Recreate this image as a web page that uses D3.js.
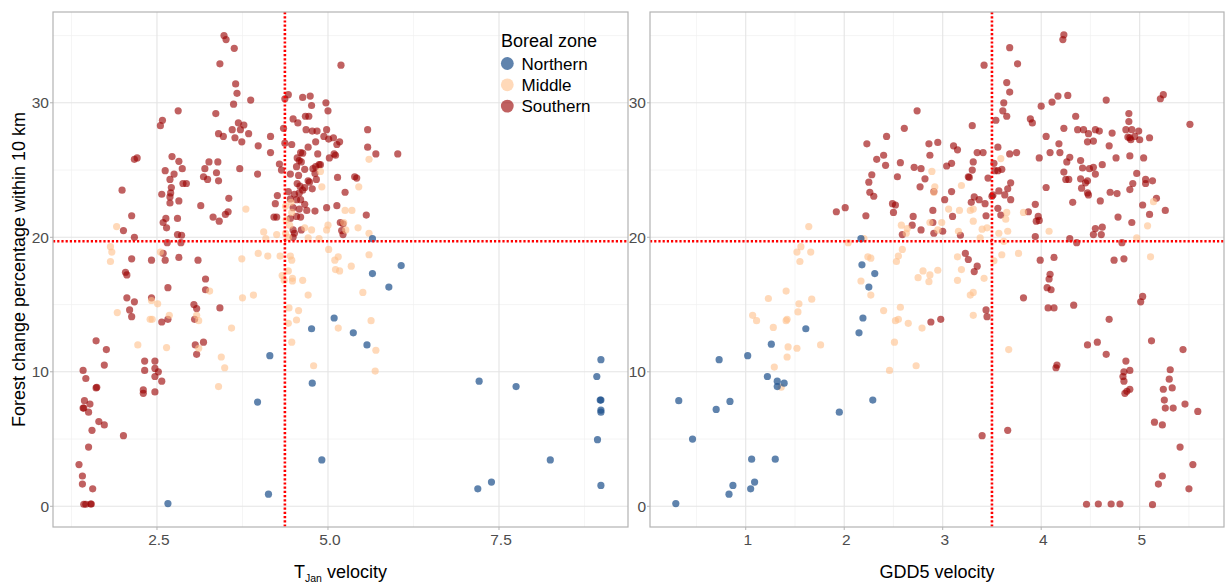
<!DOCTYPE html>
<meta charset="utf-8">

<style type="text/css">
html, body {
    margin: 0;
    background-color: #ffffff;
}

.grid-major {
    stroke: #e4e4e4;
    stroke-width: 1.1;
}

.grid-minor {
    stroke: #f1f1f1;
    stroke-width: 0.7;
}

.panel-border {
    fill: none;
    stroke: #b3b3b3;
    stroke-width: 1.2;
}

.tick-mark {
    stroke: #b3b3b3;
    stroke-width: 1;
}

.tick-label {
    font-family: "Liberation Sans", Arial, sans-serif;
    font-size: 15.5px;
    fill: #4d4d4d;
}

.axis-title, .legend-text {
    font-family: "Liberation Sans", Arial, sans-serif;
    font-size: 18px;
    fill: #000000;
}

.legend-text {
    font-size: 17px;
}

.ref-line {
    stroke: #ff0000;
    stroke-width: 2.6;
    stroke-dasharray: 2.2, 2;
}
</style>

<body>
</body>

<script src="https://d3js.org/d3.v7.min.js"></script>
<script>

// zones and colours
var zones = ["Northern", "Middle", "Southern"];
var zoneColors = {"Northern": "#1b4f8a", "Middle": "#ffc08a", "Southern": "#990000"};
var zoneOpacity = {"Northern": 0.7, "Middle": 0.6, "Southern": 0.62};

// reference lines (medians)
var forestLine = 19.7;
var tjanLine = 4.37;
var gddLine = 3.5;

// tick values
var yTicks = [0, 10, 20, 30];
var yMinor = [5, 15, 25, 35];
var tjanTicks = [2.5, 5, 7.5];
var tjanMinor = [1.25, 3.75, 6.25, 8.75];
var gddTicks = [1, 2, 3, 4, 5];
var gddMinor = [0.5, 1.5, 2.5, 3.5, 4.5, 5.5];

// left panel: [T_Jan velocity, forest change %]
var tjanNorthern = [[5.65,19.9],[5.65,17.3],[6.07,17.9],[5.89,16.3],[5.09,14.0],[4.76,13.2],[5.37,12.9],[5.57,12.0],
    [4.15,11.2],[4.77,9.15],[3.97,7.75],[4.91,3.45],[4.13,0.9],[2.66,0.2],[7.21,9.3],[7.75,8.9],[8.99,10.9],
    [8.93,9.65],[8.98,7.9],[8.99,7.9],[8.99,7.15],[8.99,7.0],[8.94,4.95],[8.25,3.45],[7.39,1.8],[7.19,1.3],[8.99,1.55]];

var tjanMiddle = [[1.91,20.8],[1.82,19.3],[1.84,18.9],[1.82,18.2],[2.55,18.9],[3.8,22.1],[4.06,20.4],[4.09,19.9],
    [4.25,20.2],[3.74,18.4],[3.98,18.8],[4.12,18.6],[4.3,18.6],[3.75,15.5],[3.91,15.7],[4.38,22.3],[4.47,21.85],
    [4.46,22.6],[4.39,21.3],[4.44,20.9],[4.38,20.3],[4.42,20.0],[4.66,20.7],[4.76,20.55],[4.71,19.95],[4.89,24.9],
    [4.91,23.75],[5.6,25.8],[5.6,20.3],[5.45,23.75],[5.25,22.0],[5.35,22.0],[5.23,21.1],[5.26,20.55],[5.44,20.7],
    [5.0,20.9],[4.98,20.55],[4.87,19.9],[5.01,19.1],[5.1,18.3],[5.15,18.55],[5.11,17.6],[5.17,17.5],[5.34,17.85],
    [5.6,18.7],[5.51,15.9],[4.33,17.15],[4.36,16.8],[4.48,16.95],[4.48,16.75],[4.42,17.5],[4.47,18.3],[4.45,18.6],
    [4.63,16.8],[4.71,15.7],[1.92,14.4],[2.42,15.3],[2.43,13.9],[2.4,13.9],[2.51,15.05],[2.68,14.2],[2.22,12.0],
    [2.64,11.8],[3.08,14.2],[3.11,13.8],[3.27,16.0],[3.11,11.75],[3.44,11.1],[3.49,10.3],[3.4,8.9],[3.59,13.25],
    [4.43,14.75],[4.42,13.6],[4.47,12.2],[4.57,14.55],[4.54,13.85],[5.15,13.25],[5.63,13.8],[5.7,11.6],[4.79,10.45],
    [5.69,10.05]];

var tjanSouthern = [[3.48,35.0],[3.51,34.7],[3.63,34.05],[3.42,32.9],[5.19,32.8],[3.65,31.4],[3.67,30.7],[3.87,30.2],
    [3.62,29.9],[3.36,29.2],[2.81,29.4],[2.58,28.7],[2.55,28.3],[3.69,28.5],[3.77,28.35],[3.6,28.0],[3.72,28.0],
    [3.4,27.7],[3.47,27.5],[3.84,27.7],[3.64,27.4],[3.74,27.1],[3.98,26.8],[4.16,27.5],[4.16,26.3],[3.71,25.1],
    [3.97,24.7],[2.17,25.8],[2.21,25.9],[1.99,23.5],[2.72,26.0],[2.82,25.65],[2.87,25.1],[2.62,24.95],[2.75,24.7],
    [2.69,24.3],[2.71,23.7],[2.88,24.0],[2.93,24.0],[2.57,23.2],[2.7,23.3],[2.69,23.0],[2.69,22.55],[2.82,22.7],
    [3.18,24.5],[3.24,24.3],[3.2,25.1],[3.26,25.6],[3.37,24.8],[3.4,24.2],[3.39,25.6],[3.14,22.35],[3.55,22.9],
    [3.32,21.5],[3.41,21.2],[3.5,21.7],[3.54,21.9],[2.63,21.4],[2.59,21.1],[2.64,20.7],[2.8,21.4],[2.8,20.2],
    [2.86,20.15],[2.85,19.6],[2.65,19.6],[2.59,18.8],[2.62,18.3],[2.82,18.5],[2.42,18.3],[2.13,21.6],[2.01,20.5],
    [2.17,20.0],[2.13,18.4],[2.04,17.4],[2.06,17.2],[3.1,18.3],[3.21,16.9],[2.66,16.25],[3.21,16.1],[2.42,15.5],
    [4.35,28.1],[4.37,27.0],[4.29,25.45],[4.32,25.0],[4.26,23.1],[4.23,22.5],[4.25,21.5],[4.21,21.5],[4.37,30.3],
    [4.42,30.6],[4.49,28.8],[4.56,28.5],[4.47,26.9],[4.63,30.4],[4.74,30.5],[4.76,29.8],[4.67,29.0],[4.72,29.0],
    [4.68,28.0],[4.77,27.9],[4.84,27.9],[4.97,30.0],[5.0,29.4],[4.98,28.0],[4.94,27.5],[5.01,27.3],[5.08,27.4],
    [5.17,27.1],[5.13,26.9],[5.58,28.0],[5.58,26.7],[5.7,26.2],[6.02,26.2],[4.82,27.1],[4.71,26.7],[4.6,26.3],
    [4.63,26.25],[4.85,26.2],[5.02,25.9],[5.09,26.2],[5.11,26.1],[4.55,25.9],[4.58,25.7],[4.61,25.6],[4.54,25.25],
    [4.66,25.05],[4.78,25.1],[4.82,25.25],[4.87,25.4],[4.89,25.4],[4.81,24.75],[4.45,24.7],[4.57,24.6],[4.71,24.2],
    [4.73,24.1],[4.83,24.3],[5.14,24.45],[5.39,24.5],[5.42,24.4],[4.66,23.7],[4.77,23.6],[4.55,24.0],[4.59,23.8],
    [4.63,23.5],[4.42,23.4],[4.51,23.2],[4.58,23.3],[5.25,23.35],[4.45,22.85],[4.54,22.8],[4.6,22.8],[4.66,22.45],
    [4.58,22.1],[4.49,22.2],[4.69,22.0],[4.81,21.95],[4.98,22.2],[5.13,22.35],[5.56,21.65],[4.54,21.55],[4.6,21.5],
    [4.45,21.4],[5.18,21.1],[5.22,21.0],[5.2,20.5],[5.22,20.2],[4.49,20.55],[4.51,20.3],[4.49,20.0],[4.61,20.55],
    [2.06,15.5],[2.17,15.2],[2.1,14.6],[2.13,14.1],[3.04,15.0],[3.08,14.7],[3.42,14.75],[2.66,13.9],[2.57,13.7],
    [3.05,13.9],[3.18,12.2],[3.06,12.0],[3.08,11.3],[1.61,12.3],[1.76,11.65],[1.73,10.5],[1.42,10.1],[1.46,9.5],
    [1.61,8.8],[1.62,8.85],[1.44,7.85],[1.52,7.6],[1.42,7.3],[1.43,7.3],[1.5,7.0],[1.65,6.3],[1.73,6.05],[1.55,5.65],
    [2.01,5.25],[1.5,4.4],[1.36,3.1],[1.41,2.25],[1.41,1.65],[1.56,1.3],[1.43,0.15],[1.46,0.15],[1.53,0.17],
    [1.54,0.17],[2.32,10.8],[2.47,10.8],[2.47,10.25],[2.52,10.0],[2.47,9.65],[2.57,9.3],[2.32,10.1],[2.3,8.65],
    [2.3,8.4],[2.47,8.5]];

// right panel: [GDD5 velocity, forest change %]
var gddNorthern = [[2.17,19.9],[2.18,17.95],[2.31,17.3],[2.25,16.3],[2.19,14.0],[2.15,12.9],[1.61,13.2],[1.26,12.05],
    [1.02,11.2],[0.73,10.9],[1.22,9.65],[1.32,9.3],[1.39,9.15],[1.32,8.9],[0.32,7.85],[0.84,7.8],[0.7,7.2],[1.95,7.0],
    [2.29,7.9],[0.46,5.0],[1.06,3.5],[1.3,3.5],[1.09,1.8],[0.87,1.55],[1.05,1.3],[0.83,0.9],[0.29,0.2]];

var gddMiddle = [[1.64,20.8],[1.56,19.3],[1.52,18.9],[1.55,18.2],[1.66,18.9],[2.04,19.6],[2.2,19.9],[2.24,18.55],
    [2.27,18.45],[2.17,16.75],[2.27,15.7],[1.41,16.0],[1.23,15.45],[1.67,15.4],[1.54,15.05],[1.53,14.45],[1.07,14.2],
    [1.11,13.8],[1.28,13.3],[1.41,13.8],[1.42,13.9],[1.43,11.85],[1.52,11.75],[1.42,11.1],[1.29,10.35],[1.76,12.0],
    [1.36,8.85],[2.4,14.55],[2.52,13.8],[2.55,13.9],[2.51,12.2],[2.46,10.1],[2.57,14.8],[3.59,25.85],[2.89,24.9],
    [2.92,23.75],[2.91,23.35],[3.19,23.85],[3.06,22.1],[3.17,22.0],[3.28,22.0],[3.31,22.1],[2.87,21.1],[2.99,21.1],
    [2.95,20.55],[2.58,20.9],[2.64,20.65],[2.63,20.3],[3.16,20.45],[3.31,21.2],[3.4,20.6],[3.45,20.7],[3.38,19.95],
    [3.57,20.3],[3.66,20.45],[3.62,19.7],[3.65,21.85],[3.64,21.35],[3.82,21.85],[4.08,20.45],[3.52,18.25],[3.6,18.7],
    [3.77,18.8],[3.15,18.55],[3.19,17.6],[3.15,16.8],[3.42,16.95],[3.28,15.7],[3.31,15.9],[2.8,17.5],[2.75,17.0],
    [2.87,17.2],[2.86,16.7],[2.95,17.55],[2.53,18.2],[2.55,18.6],[2.59,19.1],[5.14,22.65],[5.08,20.85],[4.97,19.95],
    [5.11,18.55],[2.65,13.6],[2.79,13.25],[2.73,10.45],[3.31,14.2],[3.67,11.65]];

var gddSouthern = [[2.23,26.95],[2.43,27.5],[2.4,26.1],[2.33,25.8],[2.42,25.35],[2.28,24.65],[2.25,24.1],[2.26,23.35],
    [2.3,23.05],[2.54,24.5],[2.57,25.55],[1.92,21.9],[2.01,22.2],[2.22,21.6],[2.49,22.5],[2.52,22.4],[2.5,21.85],
    [4.23,35.05],[4.22,34.7],[3.68,34.1],[3.76,32.9],[3.42,32.8],[3.65,31.5],[3.68,30.8],[3.62,30.0],[3.61,29.4],
    [3.65,29.0],[3.54,28.7],[4.17,30.5],[4.27,30.55],[4.11,30.05],[4.0,29.75],[4.66,30.2],[5.24,30.6],[5.21,30.3],
    [5.51,28.4],[2.74,29.4],[2.61,28.1],[3.3,28.3],[3.89,28.8],[3.91,28.5],[4.35,29.0],[4.23,28.1],[4.37,28.0],
    [4.43,28.0],[4.48,27.7],[4.55,28.0],[4.59,27.9],[4.72,27.75],[4.89,29.2],[4.89,28.6],[4.86,28.0],[4.92,28.0],
    [4.99,27.9],[4.88,27.45],[4.9,27.4],[4.91,27.25],[4.95,27.5],[5.0,27.25],[5.1,27.4],[4.47,27.1],[4.53,27.15],
    [4.69,26.8],[4.05,27.5],[4.18,26.95],[4.19,26.3],[4.09,26.3],[3.98,25.9],[4.26,25.6],[4.29,25.95],[4.23,24.85],
    [4.25,24.3],[4.28,24.3],[4.4,25.7],[4.42,25.15],[4.49,25.1],[4.53,25.2],[4.55,24.7],[4.62,25.4],[4.4,24.35],
    [4.45,24.05],[4.47,24.2],[4.41,23.65],[4.47,23.3],[4.48,23.15],[4.76,25.9],[4.9,26.05],[5.04,25.9],[4.97,24.75],
    [5.06,24.3],[5.06,24.0],[5.13,24.2],[4.93,24.0],[4.9,23.55],[4.7,23.35],[4.77,23.25],[4.6,22.7],[4.32,22.6],
    [5.17,22.9],[5.03,22.4],[5.26,22.0],[5.1,21.7],[4.78,21.5],[4.92,21.1],[4.55,20.65],[4.62,20.75],[4.53,20.2],
    [4.61,20.2],[4.29,19.9],[4.36,19.6],[4.82,19.6],[4.74,18.3],[4.84,18.4],[5.03,15.6],[3.94,22.45],[3.97,21.55],
    [3.98,21.25],[3.95,21.2],[3.87,21.9],[3.94,20.05],[3.99,18.3],[4.13,18.5],[4.09,17.25],[4.08,16.9],[4.06,16.25],
    [4.1,16.1],[3.82,15.5],[4.05,23.7],[3.56,26.7],[3.35,26.3],[3.41,26.3],[3.68,26.2],[3.75,26.3],[3.52,25.5],
    [3.53,24.95],[3.56,24.95],[3.6,25.05],[3.31,25.6],[3.3,25.0],[3.26,24.5],[3.27,24.45],[3.46,24.4],[3.69,24.05],
    [3.66,23.6],[3.57,23.45],[3.63,23.15],[3.69,22.8],[3.51,23.15],[3.5,23.05],[3.32,23.0],[3.37,22.8],[3.43,22.5],
    [3.56,22.15],[3.59,21.65],[3.44,21.6],[3.29,22.6],[3.11,26.8],[3.15,26.5],[2.95,27.05],[2.86,26.95],[2.87,26.1],
    [3.09,25.5],[3.04,25.3],[2.78,25.1],[2.71,25.2],[2.82,24.35],[2.77,23.75],[2.91,23.4],[3.09,23.4],[3.02,22.8],
    [2.9,22.0],[2.9,21.1],[3.1,21.55],[2.7,21.55],[2.69,20.9],[2.78,20.55],[3.0,20.45],[2.91,20.3],[3.18,20.15],
    [2.59,20.2],[3.23,18.8],[3.26,18.35],[3.32,17.45],[3.35,17.85],[4.07,14.75],[4.13,14.75],[4.33,14.95],[5.01,15.2],
    [4.69,13.9],[5.12,12.3],[5.44,11.65],[4.47,12.0],[4.57,12.2],[4.66,11.3],[4.16,10.5],[4.15,10.3],[4.86,10.8],
    [4.9,10.1],[4.84,10.0],[4.83,9.65],[4.84,9.3],[4.87,8.55],[4.85,8.4],[4.9,8.7],[5.31,10.15],[5.3,9.45],[5.33,8.8],
    [5.24,8.7],[5.25,7.9],[5.26,7.3],[5.34,7.3],[5.46,7.6],[5.59,7.05],[5.15,6.25],[5.23,6.05],[5.41,4.4],[5.54,3.1],
    [5.23,2.25],[5.19,1.65],[5.5,1.3],[4.46,0.15],[4.58,0.17],[4.71,0.17],[4.8,0.17],[5.13,0.12],[3.66,5.65],
    [3.4,5.25],[3.44,14.6],[3.45,14.1],[2.88,13.7],[2.98,13.9]];

// page size and panel layout
var width = 1231, height = 584;
var panelTop = 12, panelBottom = 527;

var svg = d3.select("body").append("svg")
    .attr("width", width)
    .attr("height", height)
    .style("display", "block");

svg.append("rect").attr("width", width).attr("height", height).attr("fill", "#ffffff");

// shared y scale
var yScale = d3.scaleLinear()
    .domain([-1.54, 36.75])
    .range([panelBottom, panelTop]);

function drawPanel(opt) {
    var xScale = d3.scaleLinear().domain(opt.domain).range([opt.left, opt.right]);
    var g = svg.append("g");

    // minor then major gridlines
    g.selectAll(".gx-minor").data(opt.minor).enter().append("line")
        .attr("class", "grid-minor")
        .attr("x1", d => xScale(d)).attr("x2", d => xScale(d))
        .attr("y1", panelTop).attr("y2", panelBottom);
    g.selectAll(".gy-minor").data(yMinor).enter().append("line")
        .attr("class", "grid-minor")
        .attr("x1", opt.left).attr("x2", opt.right)
        .attr("y1", d => yScale(d)).attr("y2", d => yScale(d));
    g.selectAll(".gx-major").data(opt.ticks).enter().append("line")
        .attr("class", "grid-major")
        .attr("x1", d => xScale(d)).attr("x2", d => xScale(d))
        .attr("y1", panelTop).attr("y2", panelBottom);
    g.selectAll(".gy-major").data(yTicks).enter().append("line")
        .attr("class", "grid-major")
        .attr("x1", opt.left).attr("x2", opt.right)
        .attr("y1", d => yScale(d)).attr("y2", d => yScale(d));

    // points, one layer per zone
    opt.series.forEach(function(s) {
        g.append("g").selectAll("circle").data(s.values).enter().append("circle")
            .attr("cx", d => xScale(d[0]))
            .attr("cy", d => yScale(d[1]))
            .attr("r", 3.6)
            .attr("fill", zoneColors[s.zone])
            .attr("fill-opacity", zoneOpacity[s.zone]);
    });

    // dotted reference lines
    g.append("line").attr("class", "ref-line")
        .attr("x1", opt.left).attr("x2", opt.right)
        .attr("y1", yScale(forestLine)).attr("y2", yScale(forestLine));
    g.append("line").attr("class", "ref-line")
        .attr("x1", xScale(opt.vline)).attr("x2", xScale(opt.vline))
        .attr("y1", panelTop).attr("y2", panelBottom);

    g.append("rect").attr("class", "panel-border")
        .attr("x", opt.left).attr("y", panelTop)
        .attr("width", opt.right - opt.left).attr("height", panelBottom - panelTop);

    // y ticks
    g.selectAll(".ytick").data(yTicks).enter().append("line")
        .attr("class", "tick-mark")
        .attr("x1", opt.left - 3).attr("x2", opt.left)
        .attr("y1", d => yScale(d)).attr("y2", d => yScale(d));
    g.selectAll(".ylab").data(yTicks).enter().append("text")
        .attr("class", "tick-label")
        .attr("x", opt.left - 4)
        .attr("y", d => yScale(d))
        .attr("dy", "0.36em")
        .attr("text-anchor", "end")
        .text(d => d);

    // x ticks
    g.selectAll(".xtick").data(opt.ticks).enter().append("line")
        .attr("class", "tick-mark")
        .attr("x1", d => xScale(d)).attr("x2", d => xScale(d))
        .attr("y1", panelBottom).attr("y2", panelBottom + 3);
    g.selectAll(".xlab").data(opt.ticks).enter().append("text")
        .attr("class", "tick-label")
        .attr("x", d => xScale(d) + 2)
        .attr("y", 545)
        .attr("text-anchor", "middle")
        .text(opt.format);

    return xScale;
}

drawPanel({
    left: 53, right: 628,
    domain: [0.98, 9.386],
    ticks: tjanTicks, minor: tjanMinor,
    format: d3.format(".1f"),
    vline: tjanLine,
    series: [{zone: "Southern", values: tjanSouthern},
             {zone: "Middle", values: tjanMiddle},
             {zone: "Northern", values: tjanNorthern}]
});

drawPanel({
    left: 650, right: 1224,
    domain: [0.028, 5.856],
    ticks: gddTicks, minor: gddMinor,
    format: d3.format("d"),
    vline: gddLine,
    series: [{zone: "Southern", values: gddSouthern},
             {zone: "Middle", values: gddMiddle},
             {zone: "Northern", values: gddNorthern}]
});

// axis titles
svg.append("text")
    .attr("class", "axis-title")
    .attr("transform", "translate(25," + (panelTop + panelBottom) / 2 + ") rotate(-90)")
    .attr("text-anchor", "middle")
    .text("Forest change percentage within 10 km");

var tjanTitle = svg.append("text")
    .attr("class", "axis-title")
    .attr("x", (53 + 628) / 2)
    .attr("y", 578)
    .attr("text-anchor", "middle");
tjanTitle.append("tspan").text("T");
tjanTitle.append("tspan").attr("font-size", "10.5px").attr("dy", 4).text("Jan");
tjanTitle.append("tspan").attr("dy", -4).text(" velocity");

svg.append("text")
    .attr("class", "axis-title")
    .attr("x", (650 + 1224) / 2)
    .attr("y", 578)
    .attr("text-anchor", "middle")
    .text("GDD5 velocity");

// legend
var legend = svg.append("g").attr("transform", "translate(500,0)");
legend.append("text")
    .attr("class", "axis-title")
    .attr("x", 1).attr("y", 47)
    .text("Boreal zone");
var keys = legend.selectAll(".key").data(zones).enter().append("g")
    .attr("transform", (d, i) => "translate(0," + (63.5 + i * 21.3) + ")");
keys.append("circle")
    .attr("cx", 7.3).attr("r", 6.4)
    .attr("fill", d => zoneColors[d])
    .attr("fill-opacity", d => zoneOpacity[d]);
keys.append("text")
    .attr("class", "legend-text")
    .attr("x", 21.5).attr("dy", "0.36em")
    .text(d => d);

</script>
